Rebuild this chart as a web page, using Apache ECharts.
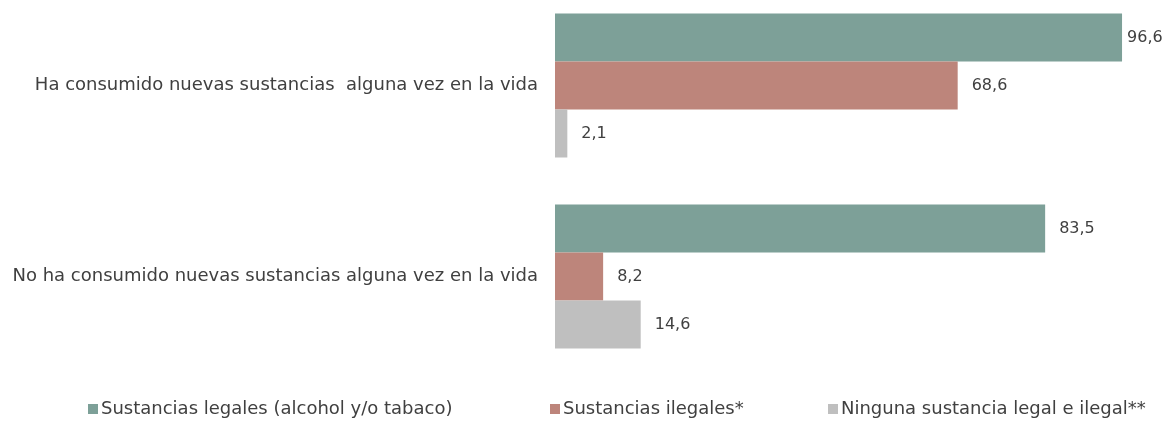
<!DOCTYPE html>
<html>
<head>
<meta charset="utf-8">
<script src="https://cdn.jsdelivr.net/npm/echarts@6/dist/echarts.min.js"></script>
<style>
  html, body { margin: 0; padding: 0; background: #ffffff; }
  #chart { width: 1176px; height: 421px; }
</style>
</head>
<body>
<div id="chart"></div>
<script>
// Categories (top to bottom) and the percentage for each group of substances
const categories = [
  'Ha consumido nuevas sustancias  alguna vez en la vida',
  'No ha consumido nuevas sustancias alguna vez en la vida'
];
const seriesNames = [
  'Sustancias legales (alcohol y/o tabaco)',
  'Sustancias ilegales*',
  'Ninguna sustancia legal e ilegal**'
];
const legales = [96.6, 83.5];
const ilegales = [68.6, 8.2];
const ninguna = [2.1, 14.6];

const colors = ['#7da098', '#bd857b', '#bfbfbf'];
const textColor = '#404040';
const fontFamily = '"DejaVu Sans", sans-serif';

const fmt = v => v.toFixed(1).replace('.', ',');

function barSeries(name, values, color) {
  return {
    name: name,
    type: 'bar',
    data: values.map(v => ({
      value: v,
      // the longest bar sits close to the right edge, so its label hugs the bar
      label: v > 95 ? { distance: 5 } : undefined
    })),
    barWidth: 48,
    barGap: '0%',
    clip: false,
    itemStyle: { color: color },
    label: {
      show: true,
      position: 'right',
      distance: 14,
      color: textColor,
      fontFamily: fontFamily,
      fontSize: 16,
      formatter: p => fmt(p.value)
    }
  };
}

const chart = echarts.init(document.getElementById('chart'), null, { renderer: 'canvas' });

const legendBase = {
  top: 400,
  padding: 0,
  itemWidth: 10,
  itemHeight: 10,
  itemGap: 4,
  icon: 'rect',
  textStyle: { color: textColor, fontFamily: fontFamily, fontSize: 18, padding: [0, 0, 0, -2] }
};

chart.setOption({
  animation: false,
  grid: { left: 555, right: 34, top: -10, bottom: 49, containLabel: false, outerBoundsMode: 'none' },
  xAxis: {
    type: 'value',
    min: 0,
    max: 100,
    show: false
  },
  yAxis: {
    type: 'category',
    inverse: true,
    data: categories,
    axisLine: { show: false },
    axisTick: { show: false },
    axisLabel: {
      margin: 17,
      color: textColor,
      fontFamily: fontFamily,
      fontSize: 18
    }
  },
  legend: [
    Object.assign({}, legendBase, { left: 88, data: [seriesNames[0]] }),
    Object.assign({}, legendBase, { left: 550, data: [seriesNames[1]] }),
    Object.assign({}, legendBase, { left: 828, data: [seriesNames[2]] })
  ],
  series: [
    barSeries(seriesNames[0], legales, colors[0]),
    barSeries(seriesNames[1], ilegales, colors[1]),
    barSeries(seriesNames[2], ninguna, colors[2])
  ]
});
</script>
</body>
</html>
